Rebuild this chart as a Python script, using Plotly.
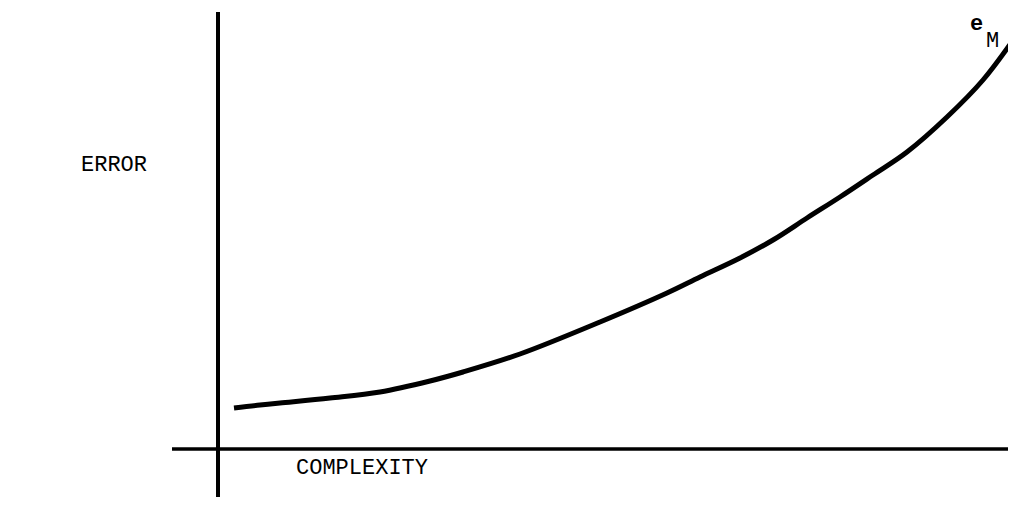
import plotly.graph_objects as go

# Curve e_M: complexity vs error (units relative to axis origin)
complexity = [16, 42, 62, 112, 162, 212, 245, 302, 382, 449, 482, 522, 555, 589, 622, 655, 689, 729, 765, 798]
error = [41, 44, 46, 51, 57, 68, 77, 95, 127, 156, 172, 191, 209, 231, 252, 274, 297, 332, 369, 413]

x_label = "COMPLEXITY"
y_label = "ERROR"
curve_label = "e"
curve_sub = "M"

fig = go.Figure()
fig.add_trace(go.Scatter(
    x=complexity, y=error, mode="lines",
    line=dict(color="black", width=5, shape="spline", smoothing=1.0),
    showlegend=False, hoverinfo="skip",
))

# axis lines
fig.add_shape(type="line", x0=-46, x1=800, y0=0, y1=0, line=dict(color="black", width=3.5))
fig.add_shape(type="line", x0=0, x1=0, y0=-48, y1=437, line=dict(color="black", width=4))

font = dict(family="Liberation Mono", size=22, color="black")
fig.add_annotation(x=-104, y=284, text=y_label, showarrow=False, font=font, xanchor="center", yanchor="middle")
fig.add_annotation(x=144, y=-19, text=x_label, showarrow=False, font=font, xanchor="center", yanchor="middle")
fig.add_annotation(x=758, y=425, text="<b>" + curve_label + "</b>", showarrow=False,
                   font=dict(family="Liberation Mono", size=22, color="black"),
                   xanchor="center", yanchor="middle")
fig.add_annotation(x=774, y=408, text=curve_sub, showarrow=False,
                   font=dict(family="Liberation Mono", size=22, color="black"),
                   xanchor="center", yanchor="middle")

fig.update_xaxes(range=[-210, 806], visible=False, fixedrange=True)
fig.update_yaxes(range=[-65, 441], visible=False, fixedrange=True)
fig.update_layout(
    width=1016, height=506,
    margin=dict(l=0, r=0, t=0, b=0),
    plot_bgcolor="white", paper_bgcolor="white",
)
fig.write_html("out.html")
